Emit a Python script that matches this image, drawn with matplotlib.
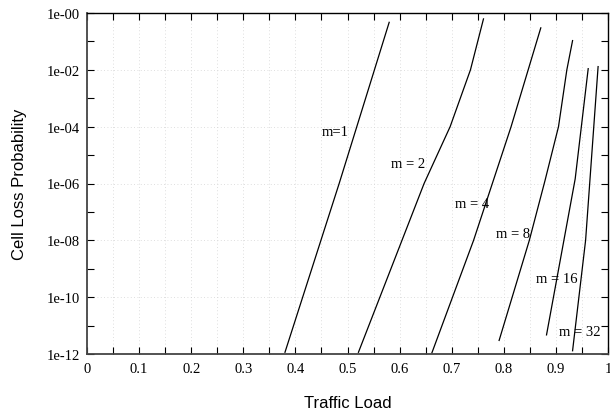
import numpy as np
import matplotlib
matplotlib.use('Agg')
import matplotlib.pyplot as plt

# traffic load / cell loss probability
m1_x = [0.380, 0.484, 0.580]
m1_y = [1.15e-12, 1e-06, 4.7e-01]
m2_x = [0.521, 0.647, 0.697, 0.736, 0.761]
m2_y = [1.15e-12, 1e-06, 1e-04, 1e-02, 6.2e-01]
m4_x = [0.662, 0.742, 0.814, 0.871]
m4_y = [1.1e-12, 1e-08, 1e-04, 3e-01]
m8_x = [0.791, 0.849, 0.879, 0.905, 0.921, 0.932]
m8_y = [3e-12, 1e-08, 1.25e-06, 1e-04, 1e-02, 1.07e-01]
m16_x = [0.882, 0.937, 0.962]
m16_y = [4.7e-12, 1.45e-06, 1.1e-02]
m32_x = [0.932, 0.957, 0.981]
m32_y = [1.3e-12, 1e-08, 1.3e-02]

curves = [(m1_x, m1_y), (m2_x, m2_y), (m4_x, m4_y),
          (m8_x, m8_y), (m16_x, m16_y), (m32_x, m32_y)]

label_text = ['m=1', 'm = 2', 'm = 4', 'm = 8', 'm = 16', 'm = 32']
label_x = [0.476, 0.617, 0.739, 0.818, 0.902, 0.945]
label_y = [6.5e-05, 5.2e-06, 2.0e-07, 1.8e-08, 4.4e-10, 6.2e-12]

x_ticks = [i * 0.05 for i in range(21)]
x_tick_labels = ['0' if i == 0 else ('1' if i == 20 else ('%.1f' % (i * 0.05) if i % 2 == 0 else ''))
                 for i in range(21)]
y_ticks = [10.0 ** -k for k in range(0, 13, 2)]
y_tick_labels = ['1e-%02d' % k for k in range(0, 13, 2)]
y_minor = [10.0 ** -k for k in range(1, 12, 2)]

serif = 'Liberation Serif'
sans = 'Liberation Sans'

fig = plt.figure(figsize=(6.1, 4.1), dpi=100)
ax = fig.add_axes([87 / 610, 55 / 410, 521 / 610, 341 / 410])

for xs, ys in curves:
    ax.semilogy(xs, ys, color='black', lw=0.9)

for t, lx, ly in zip(label_text, label_x, label_y):
    ax.text(lx, ly, t, ha='center', va='center', fontsize=10.5, family=serif)

ax.set_xlim(0, 1)
ax.set_ylim(1e-12, 1)
ax.set_xticks(x_ticks)
ax.set_xticklabels(x_tick_labels, family=serif, fontsize=10.5)
ax.set_yticks(y_ticks)
ax.set_yticklabels(y_tick_labels, family=serif, fontsize=10.5)
ax.set_yticks(y_minor, minor=True)
ax.set_yticklabels([], minor=True)

ax.tick_params(which='major', direction='in', length=5, width=0.8, top=True, right=True, pad=5)
ax.tick_params(which='minor', direction='in', length=3, width=0.8, top=True, right=True)
ax.tick_params(axis='x', which='major', pad=6)
ax.tick_params(axis='y', which='minor', right=True, length=5)

ax.grid(True, which='major', color='#d4d4d4', linestyle=(0, (1, 3)), lw=0.6)

for side in ['left', 'bottom']:
    ax.spines[side].set_color('#444444')
    ax.spines[side].set_linewidth(1.3)
for side in ['top', 'right']:
    ax.spines[side].set_linewidth(1.0)

ax.set_xlabel('Traffic Load', family=sans, fontsize=12, labelpad=14)
ax.set_ylabel('Cell Loss Probability', family=sans, fontsize=12, labelpad=14)

fig.savefig('out.png', dpi=100)
